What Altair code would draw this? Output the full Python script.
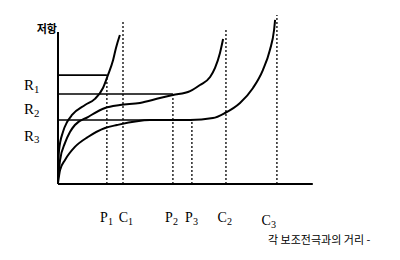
import altair as alt
import pandas as pd

# ---- values (arbitrary units, 0-100) ----
tick_names = ["P₁", "C₁", "P₂", "P₃", "C₂", "C₃"]
p_names = ["P₁", "P₂", "P₃"]
p_pos = [18.8, 44.2, 51.5]          # where each curve meets its R level
c_names = ["C₁", "C₂", "C₃"]
c_pos = [25.0, 64.6, 84.2]           # asymptote distances
c_top = [93.1, 89.7, 97.1]
r_names = ["R₁", "R₂", "R₃"]
r_levels = [62.6, 51.7, 36.8]

curve_a_x = [0.0, 0.4, 1.9, 3.5, 5.4, 10.4, 14.2, 17.3, 19.2, 21.2, 22.3, 23.8]
curve_a_y = [6.9, 19.5, 29.9, 35.6, 39.7, 45.4, 48.9, 55.2, 62.6, 71.3, 78.2, 85.6]

curve_b_x = [0.0, 0.8, 2.7, 4.6, 6.5, 11.5, 18.1, 23.8, 31.5, 39.2, 44.2, 50.8, 54.6, 58.5, 60.4, 62.3, 63.5]
curve_b_y = [3.4, 13.8, 23.6, 29.9, 33.9, 38.5, 43.7, 45.4, 46.6, 49.4, 51.1, 53.4, 56.9, 61.5, 66.7, 75.3, 83.3]

curve_c_x = [0.0, 0.8, 2.7, 6.5, 11.5, 18.1, 22.7, 35.4, 50.8, 59.6, 64.2, 70.0, 75.0, 78.8, 81.5, 83.1, 83.5]
curve_c_y = [0.6, 8.0, 13.8, 21.3, 27.0, 32.2, 33.9, 36.8, 36.8, 37.9, 40.8, 46.6, 55.2, 65.5, 77.0, 88.5, 94.3]

y_title = "저항"
x_title = "각 보조전극과의 거리 -"
axis_x_end = 98.0
axis_y_end = 87.4

SUB = {"₁": "1", "₂": "2", "₃": "3"}

# ---- tables ----
rows = []
for name, xv_list, yv_list in [("A", curve_a_x, curve_a_y), ("B", curve_b_x, curve_b_y), ("C", curve_c_x, curve_c_y)]:
    for i, (xv, yv) in enumerate(zip(xv_list, yv_list)):
        rows.append({"curve": name, "i": i, "x": xv, "y": yv})
curves = pd.DataFrame(rows)

hlines = pd.DataFrame({"name": r_names, "r": r_levels, "x0": [0, 0, 0], "p": p_pos})
pv = pd.DataFrame({"name": p_names, "p": p_pos, "r": r_levels, "z": [0, 0, 0]})
cv = pd.DataFrame({"name": c_names, "c": c_pos, "top": c_top, "z": [0, 0, 0]})
axes = pd.DataFrame({"x": [0, 0], "x2": [axis_x_end, 0], "y": [0, 0], "y2": [0, axis_y_end]})

xs = alt.Scale(domain=[0, 100], nice=False, zero=False)
ys = alt.Scale(domain=[0, 100], nice=False, zero=False)
X = lambda f: alt.X(f, type="quantitative", scale=xs, axis=None)
Y = lambda f: alt.Y(f, type="quantitative", scale=ys, axis=None)

serif = "Liberation Serif"
kr = "Noto Sans CJK KR"

axis_layer = alt.Chart(axes).mark_rule(color="black", strokeWidth=2).encode(
    x=X("x"), x2="x2", y=Y("y"), y2="y2")

curve_layer = alt.Chart(curves).mark_line(color="black", strokeWidth=2, interpolate="monotone").encode(
    x=X("x"), y=Y("y"), detail="curve:N", order="i:Q")

h_layer = alt.Chart(hlines).mark_rule(color="black", strokeWidth=1.6).encode(
    x=X("x0"), x2="p", y=Y("r"))

pv_layer = alt.Chart(pv).mark_rule(color="black", strokeWidth=1.3, strokeDash=[2, 2]).encode(
    x=X("p"), y=Y("z"), y2="r")

cv_layer = alt.Chart(cv).mark_rule(color="black", strokeWidth=1.3, strokeDash=[2, 2]).encode(
    x=X("c"), y=Y("z"), y2="top")

layers = [axis_layer, h_layer, pv_layer, cv_layer, curve_layer]


def sub_label(name, x_enc, y_enc, dx, dy, size):
    """letter + lowered smaller digit"""
    letter, digit = name[0], SUB[name[1]]
    df = pd.DataFrame({"t": [letter], "s": [digit]})
    main = alt.Chart(df).mark_text(font=serif, fontSize=size, align="right", baseline="middle",
                                   dx=dx + 1, dy=dy).encode(x=x_enc, y=y_enc, text="t:N")
    small = alt.Chart(df).mark_text(font=serif, fontSize=size * 0.72, align="left", baseline="middle",
                                    dx=dx + 1, dy=dy + size * 0.3).encode(x=x_enc, y=y_enc, text="s:N")
    return [main, small]


# R labels on the left, just below each R level
r_dy = [10, 15, 16]
for name, lvl, d in zip(r_names, r_levels, r_dy):
    layers += sub_label(name, alt.value(-25), alt.datum(lvl), 0, d, 15)

# tick labels below the x axis
tick_pos = [p_pos[0], c_pos[0], p_pos[1], p_pos[2], c_pos[1], c_pos[2]]
tick_dx = [0, 4, -1, 0, 0, -7]
tick_dy = [0, 0, 0, 0, 0, 3]
for name, pos, dx, dy in zip(tick_names, tick_pos, tick_dx, tick_dy):
    layers += sub_label(name, alt.datum(pos), alt.value(208), dx, dy, 14)

# titles
layers.append(alt.Chart(pd.DataFrame({"t": [y_title]})).mark_text(
    font=kr, fontSize=11, fontWeight="bold", align="right", baseline="middle").encode(
    x=alt.value(-1), y=alt.value(20), text="t:N"))
layers.append(alt.Chart(pd.DataFrame({"t": [x_title]})).mark_text(
    font=kr, fontSize=11, align="left", baseline="middle").encode(
    x=alt.value(210), y=alt.value(231), text="t:N"))

chart = alt.layer(*layers).resolve_scale(x="shared", y="shared").properties(
    width=260, height=174,
    autosize=alt.AutoSizeParams(type="none"),
    padding={"left": 58, "top": 10, "right": 82, "bottom": 76},
    background="white",
).configure_view(stroke=None)

chart.save("out.html", embed_options={"renderer": "svg", "actions": False})
